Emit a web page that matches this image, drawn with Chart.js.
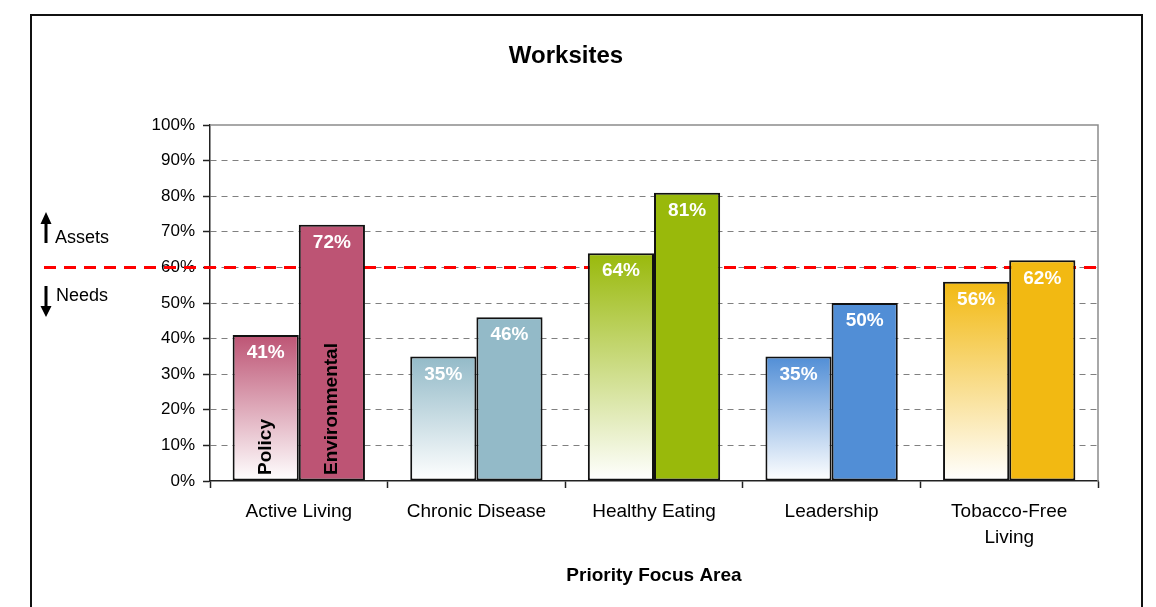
<!DOCTYPE html>
<html>
<head>
<meta charset="utf-8">
<title>Worksites</title>
<script src="https://cdn.jsdelivr.net/npm/chart.js@4.4.0/dist/chart.umd.min.js"></script>
<style>
  html, body { margin: 0; padding: 0; background: #fff; }
  #wrap { width: 1156px; height: 607px; }
</style>
</head>
<body>
<div id="wrap"><canvas id="myChart" width="1156" height="607"></canvas></div>
<script>
// chart values
const categories = ['Active Living', 'Chronic Disease', 'Healthy Eating', 'Leadership', ['Tobacco-Free', 'Living']];
const policy = [41, 35, 64, 35, 56];
const environmental = [72, 46, 81, 50, 62];
const barColors = ['#bd5474', '#93bac8', '#99b90b', '#518ed6', '#f2b912'];
const yTicks = [0, 10, 20, 30, 40, 50, 60, 70, 80, 90, 100];
const threshold = 60;

const FONT = "'Liberation Sans', Arial, sans-serif";

// gradient from bar colour at top to white at the bottom
function policyFill(ctx) {
  let chart = ctx.chart;
  let color = barColors[ctx.dataIndex];
  if (!chart.chartArea) return color;
  let y = chart.scales.y;
  let top = y.getPixelForValue(policy[ctx.dataIndex]);
  let bottom = y.getPixelForValue(0);
  let g = chart.ctx.createLinearGradient(0, top, 0, bottom);
  g.addColorStop(0, color);
  g.addColorStop(1, '#ffffff');
  return g;
}

const extras = {
  id: 'extras',
  beforeDraw(chart) {
    let c = chart.ctx;
    c.save();
    // outer frame
    c.strokeStyle = '#111';
    c.lineWidth = 2;
    c.strokeRect(31, 15, 1111, 700);
    // title
    c.fillStyle = '#000';
    c.font = 'bold 24px ' + FONT;
    c.textAlign = 'center';
    c.textBaseline = 'middle';
    c.fillText('Worksites', 566, 56);
    c.restore();
  },
  beforeDatasetsDraw(chart) {
    let c = chart.ctx;
    let a = chart.chartArea;
    let y = chart.scales.y;
    c.save();
    // plot area top / right edge
    c.strokeStyle = '#8c8c8c';
    c.lineWidth = 1.5;
    c.beginPath();
    c.moveTo(a.left, a.top);
    c.lineTo(a.right, a.top);
    c.lineTo(a.right, a.bottom);
    c.stroke();
    // threshold line
    let ty = y.getPixelForValue(threshold);
    c.strokeStyle = '#ff0000';
    c.lineWidth = 3;
    c.setLineDash([12, 8]);
    c.beginPath();
    c.moveTo(44, ty);
    c.lineTo(a.right + 2, ty);
    c.stroke();
    c.setLineDash([]);
    // Assets / Needs
    c.fillStyle = '#000';
    c.strokeStyle = '#000';
    c.lineWidth = 3;
    c.beginPath();
    c.moveTo(46, 243); c.lineTo(46, 222);
    c.moveTo(46, 286); c.lineTo(46, 308);
    c.stroke();
    c.beginPath();
    c.moveTo(40.5, 224); c.lineTo(46, 212); c.lineTo(51.5, 224); c.closePath();
    c.moveTo(40.5, 306); c.lineTo(46, 317); c.lineTo(51.5, 306); c.closePath();
    c.fill();
    c.font = '18px ' + FONT;
    c.textAlign = 'left';
    c.textBaseline = 'middle';
    c.fillText('Assets', 55, 238);
    c.fillText('Needs', 56, 296);
    c.restore();
  },
  afterDatasetsDraw(chart) {
    let c = chart.ctx;
    let a = chart.chartArea;
    c.save();
    c.font = 'bold 19px ' + FONT;
    c.fillStyle = '#fff';
    c.textAlign = 'center';
    c.textBaseline = 'middle';
    chart.data.datasets.forEach((ds, di) => {
      chart.getDatasetMeta(di).data.forEach((bar, i) => {
        c.fillText(ds.data[i] + '%', bar.x, bar.y + 18);
      });
    });
    // series names on the first group
    c.fillStyle = '#000';
    c.textAlign = 'left';
    [0, 1].forEach(di => {
      let bar = chart.getDatasetMeta(di).data[0];
      c.save();
      c.translate(bar.x, a.bottom - 6);
      c.rotate(-Math.PI / 2);
      c.fillText(chart.data.datasets[di].label, 0, 0);
      c.restore();
    });
    c.restore();
  }
};

let ctx = document.querySelector('#myChart').getContext('2d');
let graphic = new Chart(ctx, {
  type: 'bar',
  data: {
    labels: categories,
    datasets: [{
      label: 'Policy',
      data: policy,
      backgroundColor: policyFill,
      borderColor: '#111',
      borderWidth: 2,
      borderSkipped: false,
      barPercentage: 1,
      categoryPercentage: 0.745
    }, {
      label: 'Environmental',
      data: environmental,
      backgroundColor: barColors,
      borderColor: '#111',
      borderWidth: 2,
      borderSkipped: false,
      barPercentage: 1,
      categoryPercentage: 0.745
    }]
  },
  options: {
    responsive: false,
    animation: false,
    layout: { padding: { left: 130, right: 58, top: 125, bottom: 0 } },
    plugins: {
      legend: { display: false },
      title: { display: false },
      tooltip: { enabled: false }
    },
    scales: {
      x: {
        grid: { display: true, drawOnChartArea: false, drawTicks: true, tickLength: 7, tickColor: '#222', tickWidth: 1.5, offset: true },
        border: { display: true, color: '#222', width: 1.5 },
        ticks: { color: '#000', font: { family: FONT, size: 19, lineHeight: 1.4 }, padding: 10, maxRotation: 0, autoSkip: false },
        title: { display: true, text: 'Priority Focus Area', color: '#000', font: { family: FONT, size: 19, weight: 'bold' }, padding: { top: 10, bottom: 20 } },
        afterFit(scale) { scale.height = 126; }
      },
      y: {
        min: 0,
        max: 100,
        afterBuildTicks(scale) { scale.ticks = yTicks.map(v => ({ value: v })); },
        grid: {
          color: ctx => (ctx.tick && (ctx.tick.value === 0 || ctx.tick.value === 100)) ? 'rgba(0,0,0,0)' : '#808080',
          lineWidth: 1,
          drawTicks: true,
          tickLength: 7,
          tickColor: '#222',
          tickWidth: 1.5,
          tickBorderDash: []
        },
        border: { display: true, color: '#222', width: 1.5, dash: [6, 5] },
        ticks: { color: '#000', font: { family: FONT, size: 17 }, padding: 8, callback: v => v + '%' },
        afterFit(scale) { scale.width = 80; }
      }
    }
  },
  plugins: [extras]
});
</script>
</body>
</html>
